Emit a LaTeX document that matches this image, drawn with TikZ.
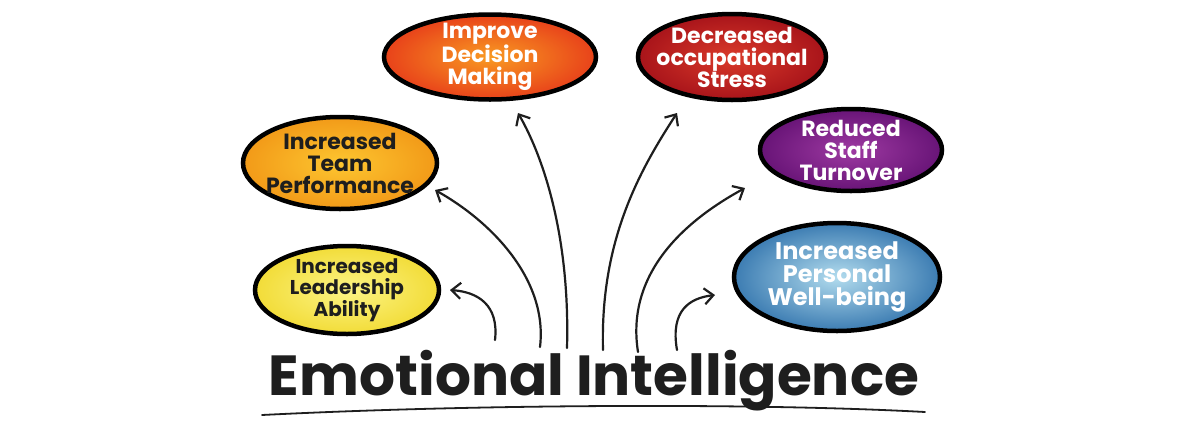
\documentclass[tikz,border=0pt]{standalone}
\usepackage{fontspec}
\setmainfont{Poppins}
\usetikzlibrary{arrows.meta,shapes.geometric}
\definecolor{decIn}{HTML}{F99A22}\definecolor{decOut}{HTML}{E8421A}
\definecolor{strIn}{HTML}{DA3A2A}\definecolor{strOut}{HTML}{A8141A}
\definecolor{teamIn}{HTML}{FDC630}\definecolor{teamOut}{HTML}{F29A18}
\definecolor{staffIn}{HTML}{9E3AA2}\definecolor{staffOut}{HTML}{681477}
\definecolor{leadIn}{HTML}{FCF485}\definecolor{leadOut}{HTML}{F2DC38}
\definecolor{wellIn}{HTML}{B2DCEE}\definecolor{wellOut}{HTML}{3C7CB2}
\definecolor{ink}{HTML}{1E1E1E}
\tikzset{
  bubble/.style={ellipse, draw=black, line width=4.5pt, inner sep=0pt},
  btext/.style={align=center, inner sep=0pt, font=\fontsize{22}{22}\selectfont\bfseries},
  darktext/.style={btext, text=ink},
  lighttext/.style={btext, text=white},
  sketcharrow/.style={draw=ink, line width=2.2pt, line cap=round,
    -{Straight Barb[length=9pt,width=16pt,line width=2.2pt]}},
}
\begin{document}
\begin{tikzpicture}[x=1pt,y=-1pt]
\useasboundingbox (0,0) rectangle (1200,424);
\fill[white] (0,0) rectangle (1200,424);

\node[bubble, minimum width=212pt, minimum height=85pt, inner color=decIn, outer color=decOut] (dec) at (490,57) {};
\node[lighttext] (decT) at (dec.center) {Improve\\Decision\\Making};
\node[bubble, minimum width=188pt, minimum height=86pt, inner color=strIn, outer color=strOut] (str) at (732,57) {};
\node[lighttext] (strT) at (str.center) {Decreased\\occupational\\Stress};
\node[bubble, minimum width=194pt, minimum height=92pt, inner color=teamIn, outer color=teamOut] (team) at (340,163) {};
\node[darktext] (teamT) at (team.center) {Increased\\Team\\Performance};
\node[bubble, minimum width=182pt, minimum height=82pt, inner color=staffIn, outer color=staffOut] (staff) at (851,150) {};
\node[lighttext] (staffT) at (staff.center) {Reduced\\Staff\\Turnover};
\node[bubble, minimum width=184pt, minimum height=88pt, inner color=leadIn, outer color=leadOut] (lead) at (347,290) {};
\node[darktext, font=\fontsize{20}{21}\selectfont\bfseries] (leadT) at (lead.center) {Increased\\Leadership\\Ability};
\node[bubble, minimum width=206pt, minimum height=108pt, inner color=wellIn, outer color=wellOut] (well) at (837,277) {};
\node[lighttext, font=\fontsize{24}{23}\selectfont\bfseries] (wellT) at (well.center) {Increased\\Personal\\Well-being};

\node[text=ink, inner sep=0pt] (title) at (594,381) {\resizebox{650pt}{!}{\bfseries Emotional Intelligence}};

\coordinate (t1) at (495,340); \coordinate (h1) at (450,290);
\coordinate (t2) at (540,347); \coordinate (h2) at (435,190);
\coordinate (t3) at (567,348); \coordinate (h3) at (518,113);
\coordinate (t4) at (603,350); \coordinate (h4) at (677,113);
\coordinate (t5) at (638,352); \coordinate (h5) at (745,188);
\coordinate (t6) at (677,350); \coordinate (h6) at (715,295);

\draw[sketcharrow] (t1) .. controls (499,305) and (478,292) .. (h1);
\draw[sketcharrow] (t2) .. controls (548,280) and (492,222) .. (h2);
\draw[sketcharrow] (t3) .. controls (570,240) and (545,160) .. (h3);
\draw[sketcharrow] (t4) .. controls (600,240) and (640,170) .. (h4);
\draw[sketcharrow] (t5) .. controls (625,270) and (690,218) .. (h5);
\draw[sketcharrow] (t6) .. controls (670,310) and (690,298) .. (h6);

\coordinate (u1) at (262,415); \coordinate (u2) at (925,412);
\draw[ink, line width=1.8pt, line cap=round] (u1) .. controls (480,404) and (760,403) .. (u2);
\end{tikzpicture}
\end{document}
